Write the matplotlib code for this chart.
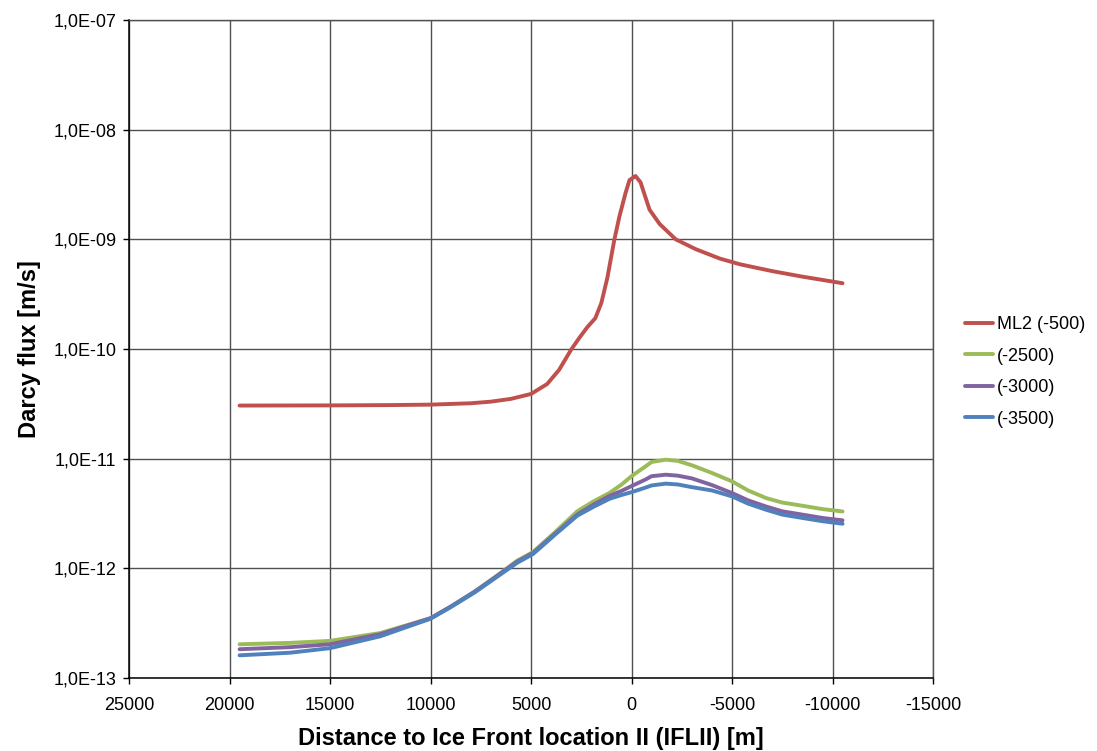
import numpy as np
import matplotlib
matplotlib.use("Agg")
import matplotlib.pyplot as plt
from matplotlib.ticker import FixedLocator, FuncFormatter, NullLocator

plt.rcParams['font.family'] = ['Liberation Sans', 'DejaVu Sans']

# Distance to ice front [m] and Darcy flux [m/s] for each observation depth
dist_ml2 = [19500, 15000, 12000, 10000, 8000, 7000, 6000, 5000, 4200, 3600,
            3000, 2600, 2200, 1800, 1500, 1200, 850, 600, 300, 100,
            -200, -450, -700, -900, -1400, -2200, -3200, -4400, -5400,
            -7000, -8500, -10500]
flux_ml2 = [3.05e-11, 3.06e-11, 3.08e-11, 3.11e-11, 3.20e-11, 3.31e-11,
            3.51e-11, 3.89e-11, 4.79e-11, 6.46e-11, 9.89e-11, 1.26e-10,
            1.58e-10, 1.91e-10, 2.63e-10, 4.47e-10, 1.00e-9, 1.62e-9,
            2.63e-9, 3.47e-9, 3.78e-9, 3.31e-9, 2.40e-9, 1.86e-9, 1.38e-9,
            1.00e-9, 8.13e-10, 6.67e-10, 5.92e-10, 5.13e-10, 4.57e-10,
            3.98e-10]

dist_deep = [19500, 17000, 15000, 12500, 10000, 9000, 7800, 6800, 5700, 4900,
             3800, 2700, 1900, 1100, 500, 0, -700, -1000, -1700, -2300,
             -3000, -4000, -5000, -5800, -6700, -7500, -8500, -9500, -10500]
flux_2500 = [2.03e-13, 2.09e-13, 2.18e-13, 2.57e-13, 3.51e-13, 4.47e-13,
             6.14e-13, 8.30e-13, 1.17e-12, 1.41e-12, 2.14e-12, 3.31e-12,
             4.07e-12, 4.86e-12, 5.80e-12, 6.92e-12, 8.51e-12, 9.33e-12,
             9.79e-12, 9.55e-12, 8.71e-12, 7.41e-12, 6.21e-12, 5.13e-12,
             4.37e-12, 3.98e-12, 3.72e-12, 3.47e-12, 3.30e-12]
flux_3000 = [1.83e-13, 1.91e-13, 2.03e-13, 2.51e-13, 3.51e-13, 4.47e-13,
             6.14e-13, 8.25e-13, 1.15e-12, 1.38e-12, 2.07e-12, 3.09e-12,
             3.80e-12, 4.57e-12, 5.08e-12, 5.62e-12, 6.46e-12, 6.92e-12,
             7.14e-12, 7.00e-12, 6.61e-12, 5.75e-12, 4.86e-12, 4.17e-12,
             3.66e-12, 3.31e-12, 3.09e-12, 2.88e-12, 2.74e-12]
flux_3500 = [1.61e-13, 1.70e-13, 1.87e-13, 2.40e-13, 3.47e-13, 4.42e-13,
             6.03e-13, 8.10e-13, 1.12e-12, 1.35e-12, 2.03e-12, 3.02e-12,
             3.63e-12, 4.30e-12, 4.66e-12, 4.95e-12, 5.45e-12, 5.70e-12,
             5.92e-12, 5.82e-12, 5.50e-12, 5.13e-12, 4.53e-12, 3.89e-12,
             3.42e-12, 3.09e-12, 2.88e-12, 2.69e-12, 2.55e-12]

series_labels = ['ML2 (-500)', '(-2500)', '(-3000)', '(-3500)']
series_colors = ['#C0504D', '#9BBB59', '#8064A2', '#4F81BD']

x_ticks = [25000, 20000, 15000, 10000, 5000, 0, -5000, -10000, -15000]
y_ticks = [1e-13, 1e-12, 1e-11, 1e-10, 1e-9, 1e-8, 1e-7]

fig = plt.figure(figsize=(10.97, 7.51), dpi=100)
ax = fig.add_axes([129 / 1097, 1 - 678 / 751, (933 - 129) / 1097, (678 - 20) / 751])

curves = [(dist_ml2, flux_ml2), (dist_deep, flux_2500),
          (dist_deep, flux_3000), (dist_deep, flux_3500)]
for (xs, ys), lab, col in zip(curves, series_labels, series_colors):
    ax.plot(xs, ys, color=col, lw=2.8, label=lab,
            solid_capstyle='round', solid_joinstyle='round', zorder=3)

ax.set_yscale('log')
ax.set_xlim(25000, -15000)
ax.set_ylim(1e-13, 1e-7)
ax.xaxis.set_major_locator(FixedLocator(x_ticks))
ax.yaxis.set_major_locator(FixedLocator(y_ticks))
ax.yaxis.set_minor_locator(NullLocator())
ax.xaxis.set_major_formatter(FuncFormatter(lambda v, p: f"{int(v)}"))
ax.yaxis.set_major_formatter(
    FuncFormatter(lambda v, p: f"1,0E-{abs(int(round(np.log10(v)))):02d}"))

ax.grid(True, which='major', color='#505050', lw=1.0, zorder=1)
for side in ['left', 'bottom']:
    ax.spines[side].set_color('black')
    ax.spines[side].set_linewidth(1.1)
for side in ['top', 'right']:
    ax.spines[side].set_color('#505050')
    ax.spines[side].set_linewidth(1.0)

ax.tick_params(axis='x', direction='out', length=4, width=1, pad=10,
               labelsize=13, colors='black')
ax.tick_params(axis='y', direction='out', length=4, width=1, pad=5,
               labelsize=13, colors='black')

ax.set_xlabel('Distance to Ice Front location II (IFLII) [m]',
              fontsize=17, fontweight='bold', labelpad=9)
ax.set_ylabel('Darcy flux [m/s]', fontsize=17, fontweight='bold', labelpad=9)

fig.legend(loc='center left', bbox_to_anchor=(965 / 1097, 1 - 372 / 751),
           frameon=False, fontsize=13, handlelength=1.55, handletextpad=0.2,
           labelspacing=0.8, borderpad=0, borderaxespad=0)

fig.savefig('out.png', dpi=100)
